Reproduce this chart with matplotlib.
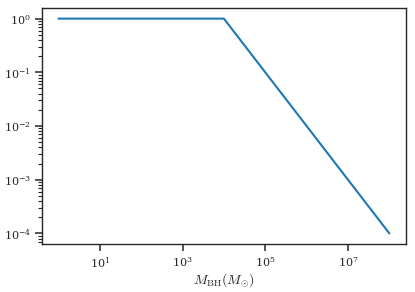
import numpy as np
import matplotlib
matplotlib.use('Agg')
import matplotlib.pyplot as plt
from matplotlib.ticker import NullLocator
import seaborn as sns

sns.set_style('ticks')
plt.rcParams['mathtext.fontset'] = 'cm'
plt.rcParams['font.family'] = ['DejaVu Serif']

# black hole mass (solar masses) and the fraction at each break
mass = [1e0, 1e4, 1e8]
frac = [1.0, 1.0, 1e-4]
xticks = [1e1, 1e3, 1e5, 1e7]

fig, ax = plt.subplots(1, 1, figsize=(4.15, 2.92), dpi=100)
ax.plot(mass, frac, color='#1f77b4', lw=1.5)
ax.set_xscale('log')
ax.set_yscale('log')
ax.set_xticks(xticks)
ax.xaxis.set_minor_locator(NullLocator())
ax.tick_params(axis='both', which='major', length=5, width=1.1, labelsize=8, pad=3)
ax.tick_params(axis='y', which='minor', length=3, width=0.8)
ax.set_xlabel(r'$M_{\rm BH}(M_{\odot})$', fontsize=10, labelpad=1)
for s in ax.spines.values():
    s.set_linewidth(1.0)

fig.subplots_adjust(left=0.101, right=0.978, top=0.973, bottom=0.164)
fig.savefig('out.png')
